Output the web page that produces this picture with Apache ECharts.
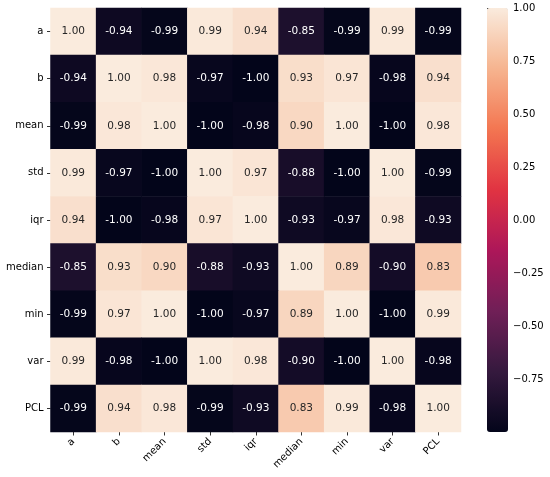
<!DOCTYPE html>
<html>
<head>
<meta charset="utf-8">
<script src="https://cdn.jsdelivr.net/npm/echarts@6/dist/echarts.min.js"></script>
<style>
  html, body { margin: 0; padding: 0; background: #fff; }
  #main { width: 550px; height: 477px; }
</style>
</head>
<body>
<div id="main"></div>
<script>
// 变量名称
var names = ['a', 'b', 'mean', 'std', 'iqr', 'median', 'min', 'var', 'PCL'];

// 相关系数矩阵，每行一个
var rowA      = [ 1.00, -0.94, -0.99,  0.99,  0.94, -0.85, -0.99,  0.99, -0.99];
var rowB      = [-0.94,  1.00,  0.98, -0.97, -1.00,  0.93,  0.97, -0.98,  0.94];
var rowMean   = [-0.99,  0.98,  1.00, -1.00, -0.98,  0.90,  1.00, -1.00,  0.98];
var rowStd    = [ 0.99, -0.97, -1.00,  1.00,  0.97, -0.88, -1.00,  1.00, -0.99];
var rowIqr    = [ 0.94, -1.00, -0.98,  0.97,  1.00, -0.93, -0.97,  0.98, -0.93];
var rowMedian = [-0.85,  0.93,  0.90, -0.88, -0.93,  1.00,  0.89, -0.90,  0.83];
var rowMin    = [-0.99,  0.97,  1.00, -1.00, -0.97,  0.89,  1.00, -1.00,  0.99];
var rowVar    = [ 0.99, -0.98, -1.00,  1.00,  0.98, -0.90, -1.00,  1.00, -0.98];
var rowPCL    = [-0.99,  0.94,  0.98, -0.99, -0.93,  0.83,  0.99, -0.98,  1.00];
var rows = [rowA, rowB, rowMean, rowStd, rowIqr, rowMedian, rowMin, rowVar, rowPCL];

// 色条刻度
var cbarTicks = [-0.75, -0.50, -0.25, 0.00, 0.25, 0.50, 0.75, 1.00];

var myChart = echarts.init(document.getElementById('main'));

var data = [];
rows.forEach(function (row, yi) {
  row.forEach(function (v, xi) {
    data.push({
      value: [xi, yi, v],
      label: { color: v < 0 ? '#ffffff' : '#262626' }
    });
  });
});

var font = 'DejaVu Sans';

var option = {
  backgroundColor: '#ffffff',
  animation: false,
  grid: [
    { left: 50.5, top: 8, width: 410.5, height: 424 },
    // 色条刻度用
    { left: 487, top: 8, width: 21, height: 424 }
  ],
  xAxis: [
    {
      type: 'category',
      gridIndex: 0,
      data: names,
      axisLine: { show: false },
      axisTick: { show: true, alignWithLabel: true, length: 3.5, lineStyle: { color: '#333' } },
      axisLabel: { rotate: 45, margin: 8, fontFamily: font, fontSize: 10, color: '#000' },
      splitLine: { show: false }
    },
    { type: 'value', gridIndex: 1, show: false, min: 0, max: 1 }
  ],
  yAxis: [
    {
      type: 'category',
      gridIndex: 0,
      inverse: true,
      data: names,
      axisLine: { show: false },
      axisTick: { show: true, alignWithLabel: true, length: 3.5, lineStyle: { color: '#333' } },
      axisLabel: { margin: 7, fontFamily: font, fontSize: 10, color: '#000' },
      splitLine: { show: false }
    },
    {
      type: 'value',
      gridIndex: 1,
      position: 'right',
      min: -1,
      max: 1,
      axisLine: { show: false },
      axisTick: { show: true, length: 3.5, customValues: cbarTicks, lineStyle: { color: '#333' } },
      axisLabel: {
        margin: 5,
        fontFamily: font,
        fontSize: 10,
        color: '#000',
        customValues: cbarTicks,
        formatter: function (v) {
          return v < 0 ? '\u2212' + Math.abs(v).toFixed(2) : v.toFixed(2);
        }
      },
      splitLine: { show: false }
    }
  ],
  visualMap: {
    type: 'continuous',
    seriesIndex: 0,
    min: -1,
    max: 1,
    calculable: false,
    left: 487,
    top: 8,
    padding: 0,
    itemWidth: 21,
    itemHeight: 424,
    text: null,
    inRange: {
      color: ['#03051A', '#35193E', '#701F57', '#AD1759', '#E13342', '#F37651', '#F6B48F', '#FAEBDD']
    }
  },
  series: [
    {
      type: 'heatmap',
      xAxisIndex: 0,
      yAxisIndex: 0,
      data: data,
      label: {
        show: true,
        fontFamily: font,
        fontSize: 10.5,
        formatter: function (p) { return p.value[2].toFixed(2); }
      },
      itemStyle: { borderWidth: 0 }
    }
  ]
};

myChart.setOption(option);
</script>
</body>
</html>
